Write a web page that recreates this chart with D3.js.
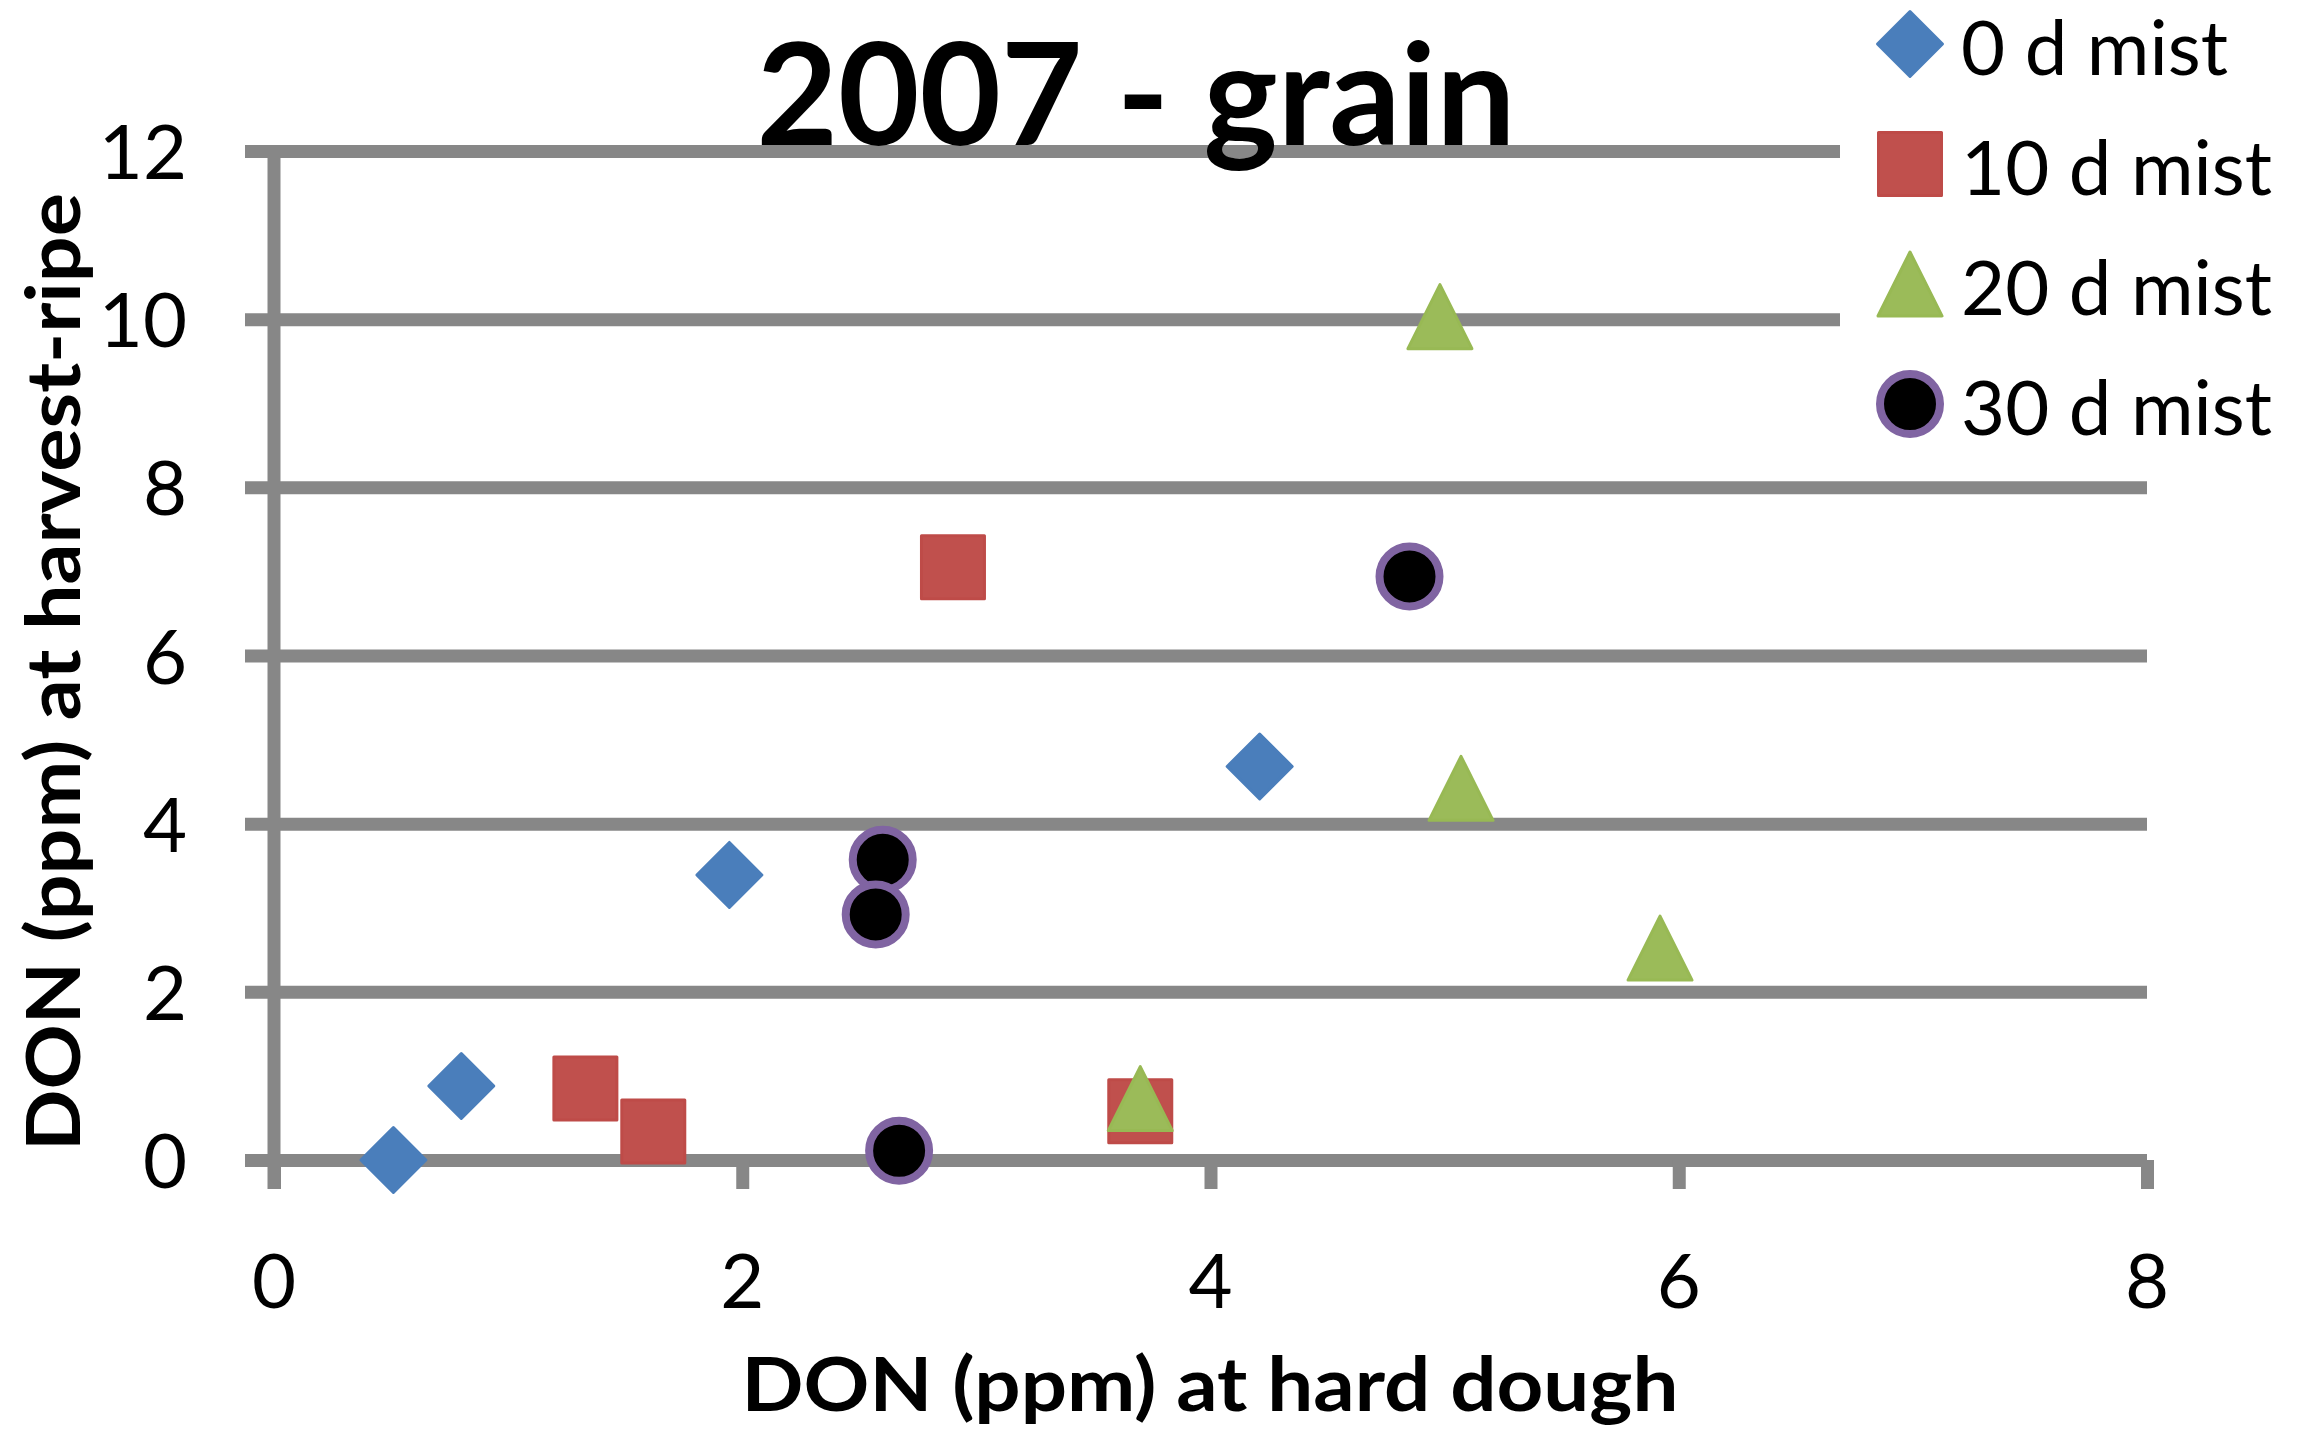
<!DOCTYPE html>
<html>
<head>
<meta charset="utf-8">
<script src="https://cdn.jsdelivr.net/npm/d3@7"></script>
<style>
  html, body { margin: 0; padding: 0; background: #ffffff; }
  svg { display: block; }
  text { font-family: Lato, "Open Sans", sans-serif; fill: #000; }
</style>
</head>
<body>
<script>
// ---------- data ----------
const title = "2007 - grain";
const xTitle = "DON (ppm) at hard dough";
const yTitle = "DON (ppm) at harvest-ripe";
const xTicks = [0, 2, 4, 6, 8];
const yTicks = [0, 2, 4, 6, 8, 10, 12];
const seriesNames = ["0 d mist", "10 d mist", "20 d mist", "30 d mist"];
const series0x = [0.51, 0.80, 1.945, 4.21];
const series0y = [0.00, 0.88, 3.39, 4.68];
const series10x = [1.33, 1.62, 2.90, 3.70];
const series10y = [0.85, 0.34, 7.05, 0.58];
const series20x = [4.98, 5.07, 5.92, 3.70];
const series20y = [10.03, 4.42, 2.52, 0.73];
const series30x = [4.85, 2.60, 2.57, 2.67];
const series30y = [6.94, 3.57, 2.92, 0.11];

// ---------- layout ----------
const W = 2318, H = 1431;
const svg = d3.select("body").append("svg").attr("width", W).attr("height", H);

const x = d3.scaleLinear().domain([0, 8]).range([274, 2147]);
const y = d3.scaleLinear().domain([0, 12]).range([1160, 151]);
const gridColor = "#878787";
const lineW = 13;

// gridlines (extend left past axis as ticks)
svg.append("g")
  .attr("transform", `translate(245,0)`)
  .call(d3.axisLeft(y).tickValues(yTicks).tickSize(-(x(8) - 245)).tickFormat(""))
  .call(g => g.select(".domain").remove())
  .call(g => g.selectAll(".tick line").attr("stroke", gridColor).attr("stroke-width", lineW));

// x tick marks downward
svg.append("g")
  .attr("transform", `translate(0,${y(0)})`)
  .call(d3.axisBottom(x).tickValues(xTicks).tickSize(29).tickFormat(""))
  .call(g => g.select(".domain").remove())
  .call(g => g.selectAll(".tick line").attr("stroke", gridColor).attr("stroke-width", lineW));

// vertical y-axis line
svg.append("line")
  .attr("x1", x(0)).attr("x2", x(0))
  .attr("y1", y(12)).attr("y2", y(0) + 29)
  .attr("stroke", gridColor).attr("stroke-width", lineW);

// legend background covering gridlines
svg.append("rect").attr("x", 1840).attr("y", 0).attr("width", W - 1840).attr("height", 478).attr("fill", "#fff");

// tick labels
svg.append("g").selectAll("text").data(yTicks).join("text")
  .attr("x", 187).attr("y", d => y(d) + 28)
  .attr("text-anchor", "end").attr("font-size", 76)
  .text(d => d);
svg.append("g").selectAll("text").data(xTicks).join("text")
  .attr("x", d => x(d)).attr("y", 1308)
  .attr("text-anchor", "middle").attr("font-size", 76)
  .text(d => d);

// axis titles
svg.append("text")
  .attr("x", 1210).attr("y", 1411)
  .attr("text-anchor", "middle").attr("font-weight", 700).attr("font-size", 74)
  .attr("textLength", 937).attr("lengthAdjust", "spacingAndGlyphs")
  .text(xTitle);
svg.append("text")
  .attr("transform", "translate(80,672) rotate(-90)")
  .attr("text-anchor", "middle").attr("font-weight", 700).attr("font-size", 74)
  .attr("textLength", 958).attr("lengthAdjust", "spacingAndGlyphs")
  .text(yTitle);

// title
svg.append("text")
  .attr("x", 1136).attr("y", 145)
  .attr("text-anchor", "middle").attr("font-weight", 700).attr("font-size", 142)
  .attr("textLength", 759).attr("lengthAdjust", "spacingAndGlyphs")
  .text(title);

// ---------- markers ----------
const diamondType = { draw(ctx, size) { const r = Math.sqrt(size) / 2; ctx.moveTo(0, -r); ctx.lineTo(r, 0); ctx.lineTo(0, r); ctx.lineTo(-r, 0); ctx.closePath(); } };
const squareType = { draw(ctx, size) { const r = Math.sqrt(size) / 2; ctx.moveTo(-r, -r); ctx.lineTo(r, -r); ctx.lineTo(r, r); ctx.lineTo(-r, r); ctx.closePath(); } };
const triType = { draw(ctx, size) { const r = Math.sqrt(size) / 2; ctx.moveTo(0, -r); ctx.lineTo(r, r); ctx.lineTo(-r, r); ctx.closePath(); } };

const styles = [
  { type: diamondType, size: 65 * 65, fill: "#4A7EBB", stroke: "#4A7EBB", sw: 3 },
  { type: squareType, size: 63 * 63, fill: "#C0504D", stroke: "#BE4B48", sw: 3 },
  { type: triType, size: 64 * 64, fill: "#9BBB59", stroke: "#98B954", sw: 3 },
  { type: d3.symbolCircle, size: Math.PI * 30 * 30, fill: "#000000", stroke: "#8064A2", sw: 8 }
];
const allSeries = [
  { xs: series0x, ys: series0y },
  { xs: series10x, ys: series10y },
  { xs: series20x, ys: series20y },
  { xs: series30x, ys: series30y }
];

allSeries.forEach((s, i) => {
  const st = styles[i];
  const pts = s.xs.map((v, j) => [v, s.ys[j]]);
  svg.append("g").selectAll("path").data(pts).join("path")
    .attr("transform", d => `translate(${x(d[0])},${y(d[1])})`)
    .attr("d", d3.symbol().type(st.type).size(st.size))
    .attr("fill", st.fill).attr("stroke", st.stroke)
    .attr("stroke-width", st.sw).attr("stroke-linejoin", "round");
});

// ---------- legend ----------
const legend = svg.append("g");
const legendLens = [267, 311, 311, 311];
seriesNames.forEach((name, i) => {
  const st = styles[i];
  const cy = 44 + i * 120;
  legend.append("path")
    .attr("transform", `translate(1910,${cy})`)
    .attr("d", d3.symbol().type(st.type).size(st.size))
    .attr("fill", st.fill).attr("stroke", st.stroke)
    .attr("stroke-width", st.sw).attr("stroke-linejoin", "round");
  legend.append("text")
    .attr("x", 1961).attr("y", cy + 31)
    .attr("font-size", 76)
    .attr("textLength", legendLens[i]).attr("lengthAdjust", "spacingAndGlyphs")
    .text(name);
});
</script>
</body>
</html>
